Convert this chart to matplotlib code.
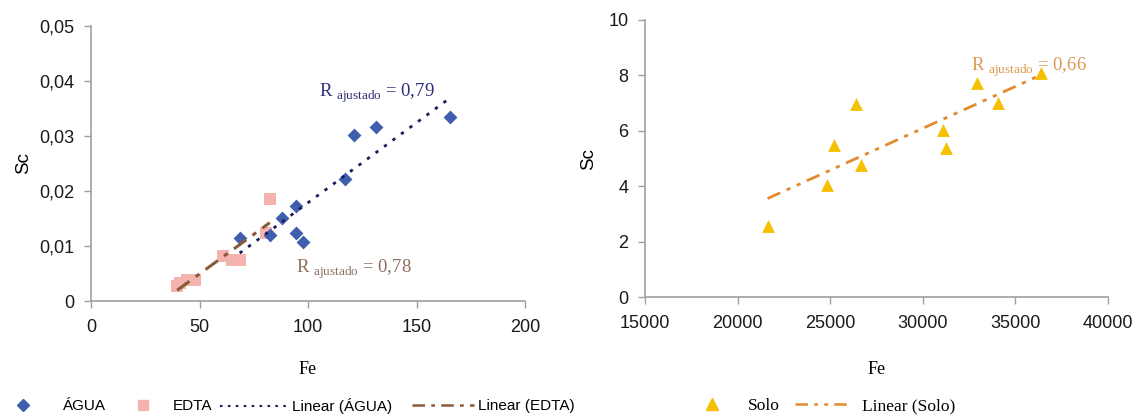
import numpy as np
import matplotlib
matplotlib.use("Agg")
import matplotlib.pyplot as plt
from matplotlib.lines import Line2D

plt.rcParams['mathtext.fontset'] = 'custom'
plt.rcParams['mathtext.rm'] = 'Liberation Serif'
plt.rcParams['font.family'] = ['Liberation Sans', 'DejaVu Sans']

# ---- dados ----
fe_agua = [165.3, 131.4, 121.0, 117.1, 94.7, 88.2, 94.7, 97.5, 82.5, 68.5]
sc_agua = [0.0335, 0.0317, 0.0302, 0.0222, 0.0173, 0.0151, 0.0123, 0.0107, 0.0120, 0.0114]

fe_edta = [39.7, 41.2, 44.3, 48.1, 60.9, 65.1, 68.6, 80.8, 82.4]
sc_edta = [0.0027, 0.0032, 0.0039, 0.0038, 0.0082, 0.0075, 0.0074, 0.0123, 0.0186]

fe_solo = [21618, 24854, 25212, 26381, 26688, 31090, 31273, 32944, 34056, 36396]
sc_solo = [2.57, 4.04, 5.49, 6.97, 4.77, 6.03, 5.37, 7.71, 6.99, 8.08]

x1_ticks = [0, 50, 100, 150, 200]
y1_ticks = [0, 0.01, 0.02, 0.03, 0.04, 0.05]
y1_labels = ['0', '0,01', '0,02', '0,03', '0,04', '0,05']
x2_ticks = [15000, 20000, 25000, 30000, 35000, 40000]
y2_ticks = [0, 2, 4, 6, 8, 10]

r_agua = '0,79'
r_edta = '0,78'
r_solo = '0,66'

# cores
c_agua = '#3f5fae'
c_edta = '#f4b3ae'
c_solo = '#f5c000'
c_lin_agua = '#1c1c5c'
c_lin_edta = '#8a5a3c'
c_lin_solo = '#e38a2e'
c_txt_agua = '#2e2e7c'
c_txt_edta = '#8e6e5c'
c_txt_solo = '#dc9a50'

ls_agua = (0, (1.2, 2.6))
ls_edta = (0, (5, 2.5, 1.5, 2.5))
ls_solo = (0, (5, 2.5, 1.5, 2.5, 1.5, 2.5))

W, H = 1138, 416
fig = plt.figure(figsize=(W / 100, H / 100), dpi=100)


def estilo(ax):
    for s in ['top', 'right']:
        ax.spines[s].set_visible(False)
    for s in ['left', 'bottom']:
        ax.spines[s].set_color('#a0a0a0')
        ax.spines[s].set_linewidth(1.2)
    ax.tick_params(axis='both', colors='#a0a0a0', labelcolor='#1a1a1a',
                   labelsize=13, length=5, width=1, direction='out')
    ax.tick_params(axis='x', pad=8)
    ax.tick_params(axis='y', pad=7)


def tendencia(x, y):
    a, b = np.polyfit(x, y, 1)
    xs = np.array([min(x), max(x)])
    return xs, a * xs + b


# ========== gráfico esquerdo ==========
ax1 = fig.add_axes([91 / W, 1 - 301 / H, (525 - 91) / W, (301 - 26) / H])
estilo(ax1)
ax1.scatter(fe_edta, sc_edta, marker='s', s=70, color=c_edta, zorder=2, linewidths=0)
ax1.scatter(fe_agua, sc_agua, marker='D', s=50, color=c_agua, zorder=3, linewidths=0)
xs, ys = tendencia(fe_agua, sc_agua)
ax1.plot(xs, ys, color=c_lin_agua, lw=2, linestyle=ls_agua, zorder=4)
xs, ys = tendencia(fe_edta, sc_edta)
ax1.plot(xs, ys, color=c_lin_edta, lw=2.2, linestyle=ls_edta, zorder=4)
ax1.set_xlim(0, 200)
ax1.set_ylim(0, 0.05)
ax1.set_xticks(x1_ticks)
ax1.set_yticks(y1_ticks)
ax1.set_yticklabels(y1_labels)
ax1.set_xlabel('Fe', family='Liberation Serif', fontsize=13, labelpad=18)
ax1.set_ylabel('Sc', fontsize=13.5, labelpad=5)
ax1.text(105, 0.0378, 'R ${}_{\\mathrm{ajustado}}$ = ' + r_agua, color=c_txt_agua,
         family='Liberation Serif', fontsize=13.5, va='center')
ax1.text(94.5, 0.0058, 'R ${}_{\\mathrm{ajustado}}$ = ' + r_edta, color=c_txt_edta,
         family='Liberation Serif', fontsize=13.5, va='center')

# ========== gráfico direito ==========
ax2 = fig.add_axes([645 / W, 1 - 297 / H, (1108 - 645) / W, (297 - 20) / H])
estilo(ax2)
ax2.scatter(fe_solo, sc_solo, marker='^', s=85, color=c_solo, zorder=3, linewidths=0)
xs, ys = tendencia(fe_solo, sc_solo)
ax2.plot(xs, ys, color=c_lin_solo, lw=2, linestyle=ls_solo, zorder=2)
ax2.set_xlim(15000, 40000)
ax2.set_ylim(0, 10)
ax2.set_xticks(x2_ticks)
ax2.set_yticks(y2_ticks)
ax2.set_xlabel('Fe', family='Liberation Serif', fontsize=13, labelpad=21)
ax2.set_ylabel('Sc', fontsize=13.5, labelpad=8)
ax2.text(32600, 8.3, 'R ${}_{\\mathrm{ajustado}}$ = ' + r_solo, color=c_txt_solo,
         family='Liberation Serif', fontsize=13.5, va='center')


# ========== legendas (uma entrada por vez, como no Excel) ==========
def entrada(handle, label, key_left, key_len, pad, prop):
    fs = prop['size'] * 100 / 72
    fig.legend([handle], [label], loc='center left',
               bbox_to_anchor=(key_left / W, 1 - 406 / H), frameon=False,
               borderpad=0, borderaxespad=0, handlelength=key_len / fs,
               handletextpad=pad / fs, prop=prop)


sans = {'family': ['Liberation Sans', 'DejaVu Sans'], 'size': 11}
serif = {'family': 'Liberation Serif', 'size': 12.5}

entrada(Line2D([], [], marker='D', color=c_agua, linestyle='none', markersize=6.5),
        'ÁGUA', 8, 30, 25, sans)
entrada(Line2D([], [], marker='s', color=c_edta, linestyle='none', markersize=7.5),
        'EDTA', 128, 30, 15, sans)
entrada(Line2D([], [], color=c_lin_agua, lw=1.5, linestyle=ls_agua),
        'Linear (ÁGUA)', 220, 68, 4, sans)
entrada(Line2D([], [], color=c_lin_edta, lw=1.8, linestyle=ls_edta),
        'Linear (EDTA)', 412, 62, 4, sans)
entrada(Line2D([], [], marker='^', color=c_solo, linestyle='none', markersize=8),
        'Solo', 697, 30, 21, serif)
entrada(Line2D([], [], color=c_lin_solo, lw=1.8, linestyle=ls_solo),
        'Linear (Solo)', 795, 57, 10, serif)

fig.savefig('out.png', dpi=100)
